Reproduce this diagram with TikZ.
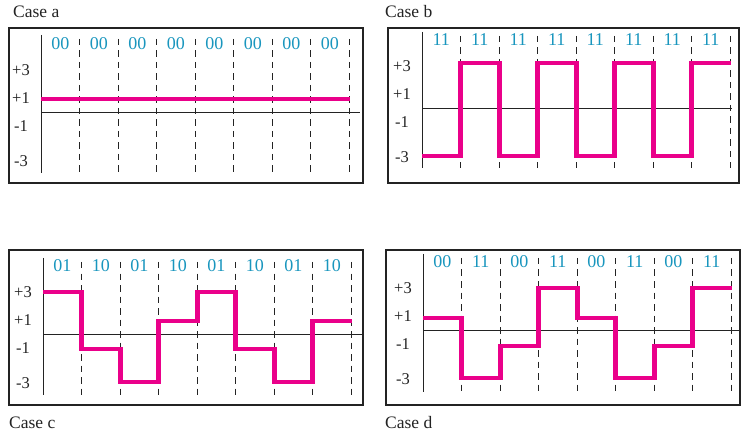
\documentclass[tikz,border=0pt]{standalone}
\usepackage{fontspec}
\setmainfont{Liberation Serif}
\definecolor{sigmag}{RGB}{234,0,138}
\definecolor{bitcyan}{RGB}{25,150,190}
\definecolor{inkgray}{RGB}{35,35,35}
\tikzset{
  framebox/.style={draw=inkgray,line width=1.2pt},
  axisline/.style={draw=inkgray,line width=1pt},
  gridline/.style={draw=inkgray,line width=1pt,dash pattern=on 6.5pt off 5pt},
  sig/.style={draw=sigmag,line width=4.8pt,line join=miter,line cap=butt},
  bitlab/.style={text=bitcyan,font=\fontsize{18}{18}\selectfont,inner sep=0pt},
  levlab/.style={text=inkgray,font=\fontsize{16.5}{16.5}\selectfont,inner sep=0pt},
  caselab/.style={text=inkgray,font=\fontsize{17.5}{17.5}\selectfont,inner sep=0pt,anchor=base west}
}
\newcommand\gridandlabels[4]{% #1 axis top, #2 axis bottom, #3 horiz end, #4 bit labels
  \draw[axisline] (0.5,#1) -- (0.5,#2);
  \draw[axisline] (0,0.5) -- (#3,0.5);
  \foreach \gx in {38.5,77.5,115.5,154.5,192.5,231.5,269.5,308.5} {\draw[gridline] (\gx,#1+4) -- (\gx,#2);}
  \foreach \b [count=\i] in {#4} {\node[bitlab] (bit\i) at ({(\i-0.5)*38.5},-68) {\b};}
  \node[levlab] (lp3) at (-20,-42) {+3};
  \node[levlab] (lp1) at (-20,-14) {+1};
  \node[levlab] (lm1) at (-20,14) {-1};
  \node[levlab] (lm3) at (-20,49) {-3};
}
\begin{document}
\begin{tikzpicture}[x=1pt,y=-1pt]
\useasboundingbox (0,0) rectangle (743,435);
\fill[white] (0,0) rectangle (743,435);
% Case a
\node[caselab] (casea) at (13,18) {Case a};
\begin{scope}[shift={(41,112)}]
  \draw[framebox] (-32,-84) rectangle (322,71);
  \gridandlabels{-77}{61}{319}{00,00,00,00,00,00,00,00}
  \draw[sig] (0,-13) -- (308.5,-13);
\end{scope}
% Case b
\node[caselab] (caseb) at (385,18) {Case b};
\begin{scope}[shift={(422,108)}]
  \draw[framebox] (-34,-80) rectangle (317,75);
  \gridandlabels{-76}{60}{310}{11,11,11,11,11,11,11,11}
  \draw[sig] (0,48) -- (38.5,48) -- (38.5,-45) -- (77.5,-45) -- (77.5,48) -- (115.5,48) -- (115.5,-45) -- (154.5,-45) -- (154.5,48) -- (192.5,48) -- (192.5,-45) -- (231.5,-45) -- (231.5,48) -- (269.5,48) -- (269.5,-45) -- (308.5,-45);
\end{scope}
% Case c
\node[caselab] (casec) at (9,428) {Case c};
\begin{scope}[shift={(43,334)}]
  \draw[framebox] (-34,-84) rectangle (320,71);
  \gridandlabels{-76}{61}{320}{01,10,01,10,01,10,01,10}
  \draw[sig] (0,-42) -- (38.5,-42) -- (38.5,15) -- (77.5,15) -- (77.5,48) -- (115.5,48) -- (115.5,-13) -- (154.5,-13) -- (154.5,-42) -- (192.5,-42) -- (192.5,15) -- (231.5,15) -- (231.5,48) -- (269.5,48) -- (269.5,-13) -- (308.5,-13);
\end{scope}
% Case d
\node[caselab] (cased) at (385,428) {Case d};
\begin{scope}[shift={(423,330)}]
  \draw[framebox] (-37,-80) rectangle (317,75);
  \gridandlabels{-76}{62}{317}{00,11,00,11,00,11,00,11}
  \draw[sig] (0,-12) -- (38.5,-12) -- (38.5,48) -- (77.5,48) -- (77.5,16) -- (115.5,16) -- (115.5,-42) -- (154.5,-42) -- (154.5,-12) -- (192.5,-12) -- (192.5,48) -- (231.5,48) -- (231.5,16) -- (269.5,16) -- (269.5,-42) -- (308.5,-42);
\end{scope}
\end{tikzpicture}
\end{document}
